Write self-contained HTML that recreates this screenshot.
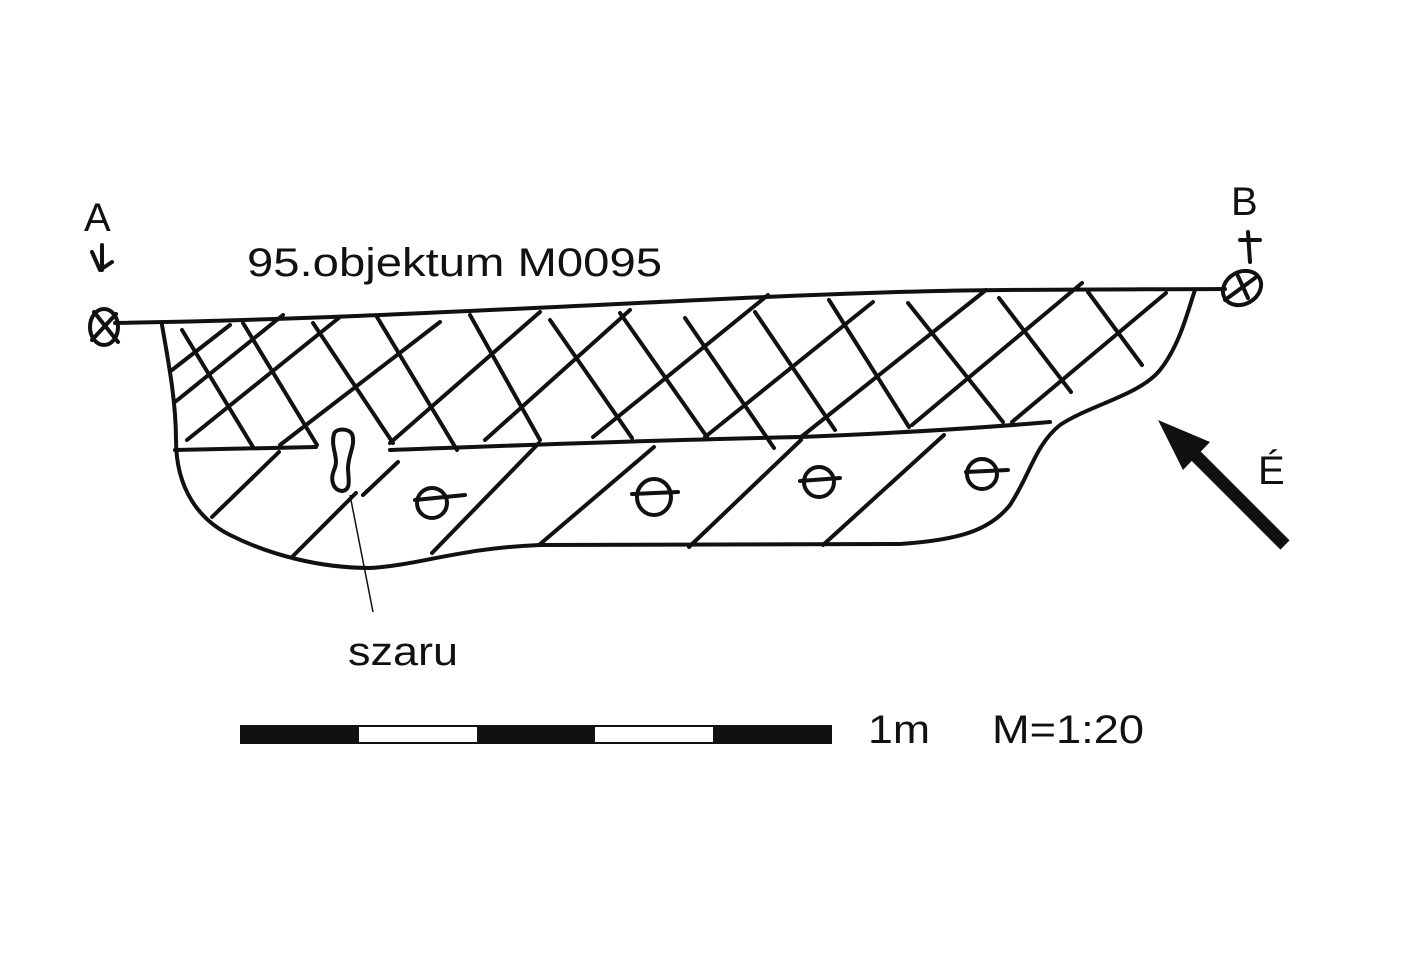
<!DOCTYPE html>
<html><head><meta charset="utf-8"><style>
body{margin:0;background:#fff;width:1423px;height:954px;overflow:hidden}
svg{display:block}
text{font-family:"Liberation Sans",sans-serif;fill:#111}
</style></head><body>
<svg width="1423" height="954" viewBox="0 0 1423 954" xmlns="http://www.w3.org/2000/svg">
<g fill="none" stroke="#111" stroke-width="4" stroke-linecap="round" stroke-linejoin="round">
<path d="M115,323 C300,320 450,312 700,300 S1000,290 1225,289"/>
<path d="M162,325 C168,360 176,400 176,440 C176,490 200,520 230,535 C270,555 320,568 370,568 C420,565 460,548 540,545 L900,544 C960,540 990,530 1010,505 C1030,475 1035,445 1060,425 C1090,405 1140,395 1160,370 C1180,345 1188,310 1195,290"/>
<path d="M175,450 L316,447"/>
<path d="M390,450 C500,446 650,440 800,437 C900,433 980,428 1050,422"/>
<path d="M182,330 L253,447 M243,323 L317,445 M313,323 L393,443 M377,317 L457,450 M470,315 L540,440 M550,320 L632,438 M620,313 L707,437 M685,318 L774,448 M755,312 L835,430 M829,300 L909,427 M908,303 L1003,422 M999,298 L1071,392 M1088,292 L1142,365"/>
<path d="M172,370 L230,325 M175,402 L283,315 M187,440 L340,317 M280,445 L440,322 M390,443 L540,312 M485,440 L630,310 M593,437 L768,295 M705,437 L873,302 M801,437 L986,290 M912,425 L1082,283 M1012,422 L1166,293"/>
<path d="M212,517 L279,452 M292,557 L356,493 M363,495 L398,462 M432,553 L539,443 M539,545 L654,447 M689,547 L801,440 M823,545 L944,435"/>
<ellipse cx="432" cy="503" rx="15" ry="15"/><path d="M415,500 L465,495"/>
<ellipse cx="654" cy="497" rx="17" ry="18"/><path d="M632,494 L678,492"/>
<ellipse cx="819" cy="482" rx="15" ry="15"/><path d="M800,481 L840,478"/>
<ellipse cx="982" cy="474" rx="15" ry="15"/><path d="M966,472 L1008,470"/>
<path d="M334,434 C330,448 340,458 334,470 C330,480 333,490 342,491 C352,490 348,478 348,468 C348,455 356,445 352,434 C348,428 336,428 334,434 Z"/>
<ellipse cx="104" cy="327" rx="14" ry="18"/><path d="M94,312 L118,342 M92,340 L116,314"/>
<path d="M92,252 L100,270 L112,262 M102,245 L102,270"/>
<ellipse cx="1242" cy="288" rx="20" ry="16" transform="rotate(-30 1242 288)"/><path d="M1225,300 L1255,278 M1238,276 L1248,298"/>
<path d="M1240,240 L1260,240 M1248,232 L1250,262"/>
</g>
<path d="M350,495 L373,612" stroke="#111" stroke-width="1.5"/>
<path d="M1285,545 L1190,450" stroke="#111" stroke-width="13"/>
<polygon points="1158,420 1210,442 1183,470" fill="#111"/>
<rect x="241" y="726" width="590" height="17" fill="#fff" stroke="#111" stroke-width="2"/>
<rect x="241" y="726" width="118" height="17" fill="#111"/>
<rect x="477" y="726" width="118" height="17" fill="#111"/>
<rect x="713" y="726" width="118" height="17" fill="#111"/>
<text x="247" y="276" font-size="40" textLength="415" lengthAdjust="spacingAndGlyphs">95.objektum M0095</text>
<text x="84" y="231" font-size="40">A</text>
<text x="1231" y="215" font-size="40">B</text>
<text x="1258" y="484" font-size="40">É</text>
<text x="348" y="665" font-size="40" textLength="110" lengthAdjust="spacingAndGlyphs">szaru</text>
<text x="868" y="743" font-size="40" textLength="62" lengthAdjust="spacingAndGlyphs">1m</text>
<text x="992" y="743" font-size="40" textLength="152" lengthAdjust="spacingAndGlyphs">M=1:20</text>
</svg>
</body></html>
